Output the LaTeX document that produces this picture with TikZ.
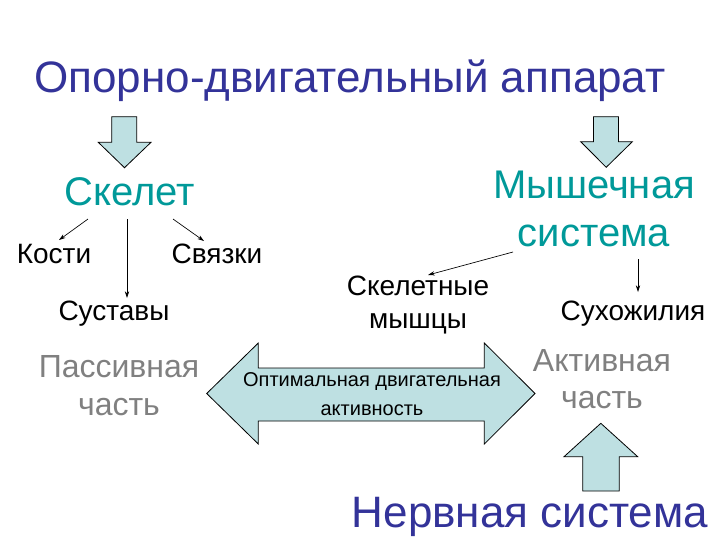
\documentclass[tikz,border=0pt]{standalone}
\usepackage{fontspec}
\setmainfont{Liberation Sans}
\usetikzlibrary{calc,arrows.meta}
\definecolor{titleblue}{RGB}{51,51,153}
\definecolor{tealtext}{RGB}{0,153,153}
\definecolor{graytext}{RGB}{128,128,128}
\definecolor{arrowfill}{RGB}{190,224,226}
\tikzset{every picture/.style={line width=0.75pt}}
\tikzset{
  blockarrow/.style={draw=black, line width=0.6pt, fill=arrowfill, line join=miter},
  thinarrow/.style={draw=black, line width=0.5pt, -{Stealth[length=5pt,width=3.2pt]}},
  label/.style={inner sep=0.75pt, anchor=base, align=center}
}

\begin{document}
\begin{tikzpicture}[x=0.75pt,y=0.75pt,yscale=-1,xscale=1]
%set diagram left start at 0, and has height of 540
\path (0,0) rectangle (720,540);

%Shape: Down Arrow [id:left]
\draw [blockarrow] (111.7,116.7) -- (136.7,116.7) -- (136.7,142.3) -- (151,142.3) -- (124.5,167.7) -- (98.3,142.3) -- (111.7,142.3) -- cycle ;
%Shape: Down Arrow [id:right]
\draw [blockarrow] (593.5,116.7) -- (618.5,116.7) -- (618.5,141.7) -- (632.3,141.7) -- (606.2,167.3) -- (580.7,141.7) -- (593.5,141.7) -- cycle ;
%Shape: Up Arrow [id:bottom]
\draw [blockarrow] (582.7,491) -- (619.3,491) -- (619.3,456.7) -- (637.7,456.7) -- (600.8,423.3) -- (564,456.7) -- (582.7,456.7) -- cycle ;
%Shape: Left-Right Arrow [id:middle]
\draw [blockarrow] (206.7,393.5) -- (258.3,343) -- (258.3,368) -- (484.3,368) -- (484.3,343) -- (535,393.5) -- (484.3,444) -- (484.3,421) -- (258.3,421) -- (258.3,444) -- cycle ;

% Text Node
\node (title) [label, font=\fontsize{33}{38}\selectfont, color=titleblue] at (350,92) {Опорно-двигательный аппарат};
% Text Node
\node (skelet) [label, font=\fontsize{30}{34}\selectfont, color=tealtext] at (130,205) {Скелет};
% Text Node
\node (myshsys) [label, font=\fontsize{30}{36}\selectfont, color=tealtext] at (594,246) {Мышечная\\система};
% Text Node
\node (kosti) [label, font=\fontsize{21}{24}\selectfont] at (54,263) {Кости};
% Text Node
\node (svyazki) [label, font=\fontsize{21}{24}\selectfont] at (217,263) {Связки};
% Text Node
\node (sustavy) [label, font=\fontsize{21}{24}\selectfont] at (114,320) {Суставы};
% Text Node
\node (skelmysh) [label, font=\fontsize{21}{24.75}\selectfont] at (418,328) {Скелетные\\мышцы};
% Text Node
\node (suhozh) [label, font=\fontsize{21}{24}\selectfont] at (633,320) {Сухожилия};
% Text Node
\node (passive) [label, font=\fontsize{24}{28}\selectfont, color=graytext] at (119,415) {Пассивная\\часть};
% Text Node
\node (active) [label, font=\fontsize{24}{27.5}\selectfont, color=graytext] at (602,408) {Активная\\часть};
% Text Node
\node (optimal) [label, font=\fontsize{15}{21.75}\selectfont] at (372,415) {Оптимальная двигательная\\активность};
% Text Node
\node (nerv) [label, font=\fontsize{33}{38}\selectfont, color=titleblue] at (530,527) {Нервная система};

%Straight Lines
\draw [thinarrow] ($(skelet.base)+(-42,14)$) -- ($(kosti.base)+(5,-23)$) ;
\draw [thinarrow] ($(skelet.base)+(-3,14)$) -- ($(sustavy.base)+(13,-22)$) ;
\draw [thinarrow] ($(skelet.base)+(43,14)$) -- ($(svyazki.base)+(-13,-22)$) ;
\draw [thinarrow] ($(myshsys.base)+(-81,6)$) -- ($(skelmysh.base)+(10,-53)$) ;
\draw [thinarrow] ($(myshsys.base)+(44,13)$) -- ($(suhozh.base)+(5,-28)$) ;

\end{tikzpicture}
\end{document}
